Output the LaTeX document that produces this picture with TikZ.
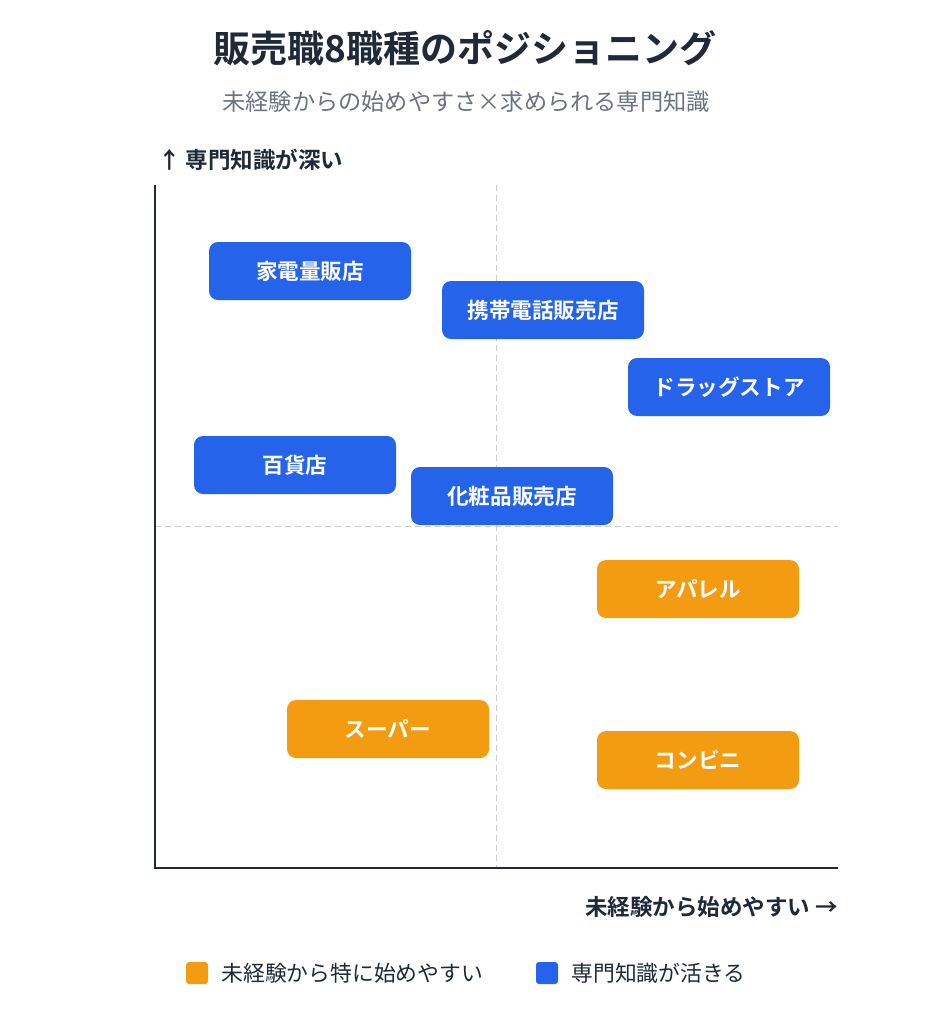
\documentclass[tikz,border=0pt]{standalone}
\usepackage{fontspec}
\setmainfont{Noto Sans CJK JP}
\newfontfamily\jpb{Noto Sans CJK JP}[BoldFont={* Bold}]
\begin{document}
\begin{tikzpicture}[x=1pt,y=-1pt,
  box/.style={rounded corners=9pt,minimum width=202pt,minimum height=58pt,text=white,font=\jpb\bfseries\fontsize{21.6}{24}\selectfont,inner sep=0pt},
  blue/.style={box,fill=cBlue},
  orng/.style={box,fill=cOrange},
  lbl/.style={font=\jpb\bfseries\fontsize{22.5}{26}\selectfont,text=cDark,inner sep=0pt}]
\definecolor{cBlue}{HTML}{2563EB}
\definecolor{cOrange}{HTML}{F39C12}
\definecolor{cDark}{HTML}{1F2937}
\definecolor{cGray}{HTML}{6B7280}
\definecolor{cDash}{HTML}{CCCCCC}
\useasboundingbox (0,0) rectangle (931,1024);
\node[font=\jpb\bfseries\fontsize{37}{42}\selectfont,text=cDark] (title) at (465,48) {販売職8職種のポジショニング};
\node[font=\jpb\fontsize{23.2}{27}\selectfont,text=cGray] (sub) at (466,102) {未経験からの始めやすさ×求められる専門知識};
\node[lbl,anchor=west] (ylab) at (158,160) {↑ 専門知識が深い};
\coordinate (o) at (155,868);
\coordinate (yt) at (155,185);
\coordinate (xr) at (838,868);
\coordinate (vt) at (496,185);
\coordinate (vb) at (496,868);
\coordinate (hl) at (155,526);
\coordinate (hr) at (838,526);
\draw[cDash,line width=1pt,dash pattern=on 6pt off 4pt] (vt) -- (vb);
\draw[cDash,line width=1pt,dash pattern=on 6pt off 4pt] (hl) -- (hr);
\draw[cDark,line width=2pt] (yt) -- (o) -- (xr);
\node[blue] (n1) at (310,271) {家電量販店};
\node[blue] (n2) at (543,310) {携帯電話販売店};
\node[blue] (n3) at (729,387) {ドラッグストア};
\node[blue] (n4) at (295,465) {百貨店};
\node[blue] (n5) at (512,496) {化粧品販売店};
\node[orng] (n6) at (698,589) {アパレル};
\node[orng] (n7) at (388,729) {スーパー};
\node[orng] (n8) at (698,760) {コンビニ};
\node[lbl,anchor=east] (xlab) at (838,907) {未経験から始めやすい →};
\node[fill=cOrange,rounded corners=3pt,minimum size=22pt,inner sep=0pt] (lg1) at (197,973) {};
\node[anchor=west,font=\jpb\fontsize{21.8}{25}\selectfont,text=cDark] (lt1) at (218,973) {未経験から特に始めやすい};
\node[fill=cBlue,rounded corners=3pt,minimum size=22pt,inner sep=0pt] (lg2) at (547,973) {};
\node[anchor=west,font=\jpb\fontsize{21.8}{25}\selectfont,text=cDark] (lt2) at (568,973) {専門知識が活きる};
\end{tikzpicture}
\end{document}
